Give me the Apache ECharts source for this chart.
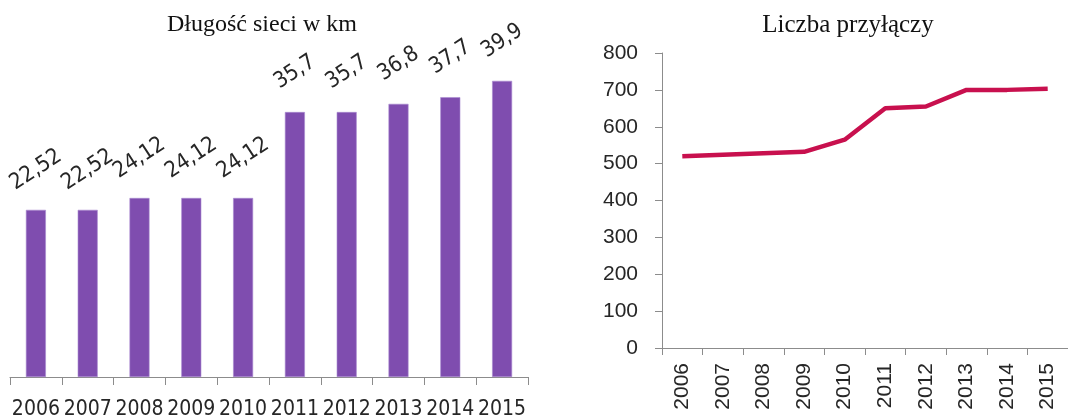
<!DOCTYPE html>
<html>
<head>
<meta charset="utf-8">
<script src="https://cdn.jsdelivr.net/npm/echarts@6/dist/echarts.min.js"></script>
<style>
  html, body { margin: 0; padding: 0; background: #ffffff; }
  #chart { width: 1068px; height: 420px; }
</style>
</head>
<body>
<div id="chart"></div>
<script>
// lata
var years = ['2006', '2007', '2008', '2009', '2010', '2011', '2012', '2013', '2014', '2015']
// Długość sieci w km
var networkKm = [22.52, 22.52, 24.12, 24.12, 24.12, 35.7, 35.7, 36.8, 37.7, 39.9]
// Liczba przyłączy
var connections = [520, 524, 528, 532, 565, 650, 655, 700, 700, 703]
var connTicks = [0, 100, 200, 300, 400, 500, 600, 700, 800]

var axisGray = '#8c8c8c'
var textColor = '#262626'
var narrow = "'Liberation Sans Narrow', 'DejaVu Sans Condensed', 'Liberation Sans', sans-serif"

var myChart = echarts.init(document.getElementById('chart'))
myChart.setOption({
  animation: false,
  title: [
    {
      text: 'Długość sieci w km',
      left: 257,
      top: 8,
      textAlign: 'center',
      textStyle: { fontFamily: "'Liberation Serif', serif", fontSize: 24, fontWeight: 'normal', color: '#111' }
    },
    {
      text: 'Liczba przyłączy',
      left: 843,
      top: 8,
      textAlign: 'center',
      textStyle: { fontFamily: "'Liberation Serif', serif", fontSize: 25, fontWeight: 'normal', color: '#111' }
    }
  ],
  grid: [
    { left: 10, top: 43, width: 518, bottom: 39, containLabel: false },
    { left: 662, top: 53, width: 412, bottom: 72, containLabel: false }
  ],
  xAxis: [
    {
      type: 'category',
      gridIndex: 0,
      data: years,
      axisLine: { lineStyle: { color: axisGray } },
      axisTick: { show: true, length: 8, lineStyle: { color: axisGray } },
      axisLabel: { margin: 22, fontSize: 21, color: textColor, fontFamily: narrow, interval: 0 }
    },
    {
      type: 'category',
      gridIndex: 1,
      data: years,
      axisLine: { lineStyle: { color: axisGray } },
      axisTick: { show: true, length: 7, lineStyle: { color: axisGray } },
      axisLabel: { margin: 15, rotate: 90, fontSize: 21, color: textColor, fontFamily: "'Liberation Sans', sans-serif", interval: 0 }
    }
  ],
  yAxis: [
    {
      type: 'value',
      gridIndex: 0,
      min: 0,
      max: 45,
      show: false
    },
    {
      type: 'value',
      gridIndex: 1,
      min: connTicks[0],
      max: connTicks[connTicks.length - 1],
      interval: 100,
      splitLine: { show: false },
      axisLine: { show: true, lineStyle: { color: axisGray } },
      axisTick: { show: true, length: 7, lineStyle: { color: axisGray } },
      axisLabel: { margin: 24, fontSize: 21, color: textColor, fontFamily: "'Liberation Sans', sans-serif" }
    }
  ],
  series: [
    {
      type: 'bar',
      xAxisIndex: 0,
      yAxisIndex: 0,
      data: networkKm,
      barWidth: 20,
      itemStyle: { color: '#7f4daf', borderColor: '#a98bd0', borderWidth: 0.6 },
      label: {
        show: true,
        position: 'top',
        distance: 40,
        rotate: 33,
        align: 'center',
        verticalAlign: 'middle',
        fontSize: 22,
        color: textColor,
        fontFamily: narrow,
        formatter: function (p) { return String(p.value).replace('.', ',') }
      }
    },
    {
      type: 'line',
      xAxisIndex: 1,
      yAxisIndex: 1,
      data: connections,
      symbol: 'none',
      lineStyle: { color: '#c8104e', width: 4.5 }
    }
  ]
})
</script>
</body>
</html>
